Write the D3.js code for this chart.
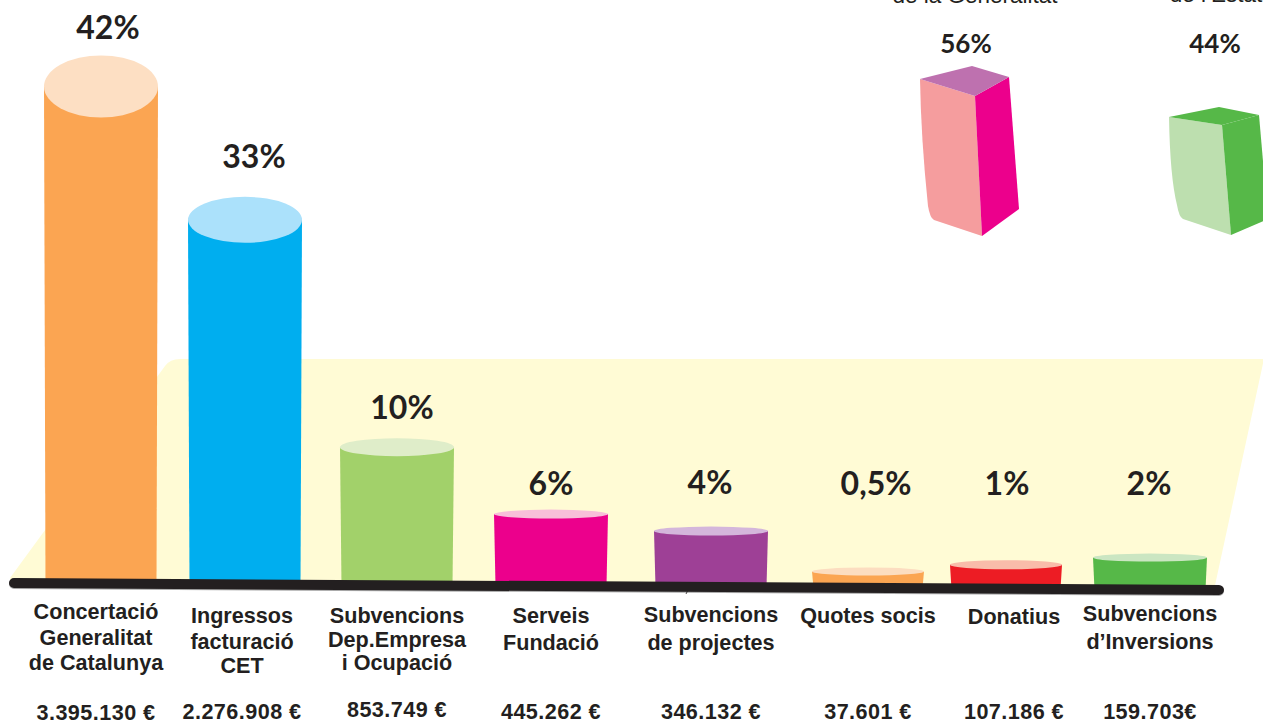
<!DOCTYPE html>
<html><head><meta charset="utf-8">
<script src="https://cdn.jsdelivr.net/npm/d3@7/dist/d3.min.js"></script>
<style>html,body{margin:0;padding:0;background:#fff;overflow:hidden}svg{display:block}</style>
</head><body><svg id="c" width="1263" height="720"></svg>
<script>
// ---- data
const categories = [["Concertació","Generalitat","de Catalunya"],["Ingressos","facturació","CET"],["Subvencions","Dep.Empresa","i Ocupació"],["Serveis","Fundació"],["Subvencions","de projectes"],["Quotes socis"],["Donatius"],["Subvencions","d’Inversions"]];
const percentLabels = ["42%","33%","10%","6%","4%","0,5%","1%","2%"];
const euroLabels = ["3.395.130 €","2.276.908 €","853.749 €","445.262 €","346.132 €","37.601 €","107.186 €","159.703€"];
const drawnLevels = [99.4,72.9,27.6,14.4,11.2,3.3,4.8,6.4];
const barColors = ["#FBA552","#00AEEF","#A2D16A","#EC008C","#9E4096","#FBA552","#ED1C24","#56B848"];
const capColors = ["#FDDFC3","#ABE1FB","#DFEDC9","#F8BFD9","#D4B6DB","#FCDDC0","#F9BCAA","#CBE6C2"];
const sourceNames = ["de la Generalitat","de l’Estat"];
const sourceShares = [56,44];
const sourceLabels = ["56%","44%"];

// ---- layout
const centers=[101,245,397,551,711,868,1006,1150];
const halfW=[57,57,57,57,57,56,56,57];
const capRy=[31,23,9,4.5,4.5,4,4.5,4];
const labelX=[96,242,397,551,711,868,1014,1150];
const labelY=[[619,645,670],[623,649,673],[623,647,670],[623,650],[622,650],[623],[624],[621,649]];
const euroY=[720,719,717,719,719,719,719,719];
const pctX=[108,254,402,551,710,876,1007,1149];
const pctY=[39,168,419,495,494,495,495,495];

const svg=d3.select("#c");
const x=d3.scaleLinear().domain(d3.range(8)).range(centers);
const level=d3.scaleLinear().domain([0,100]).range([0,500]);
const base=d3.scaleLinear().domain([14,1219]).range([583,590]);
const LF="'Liberation Sans',Arial,sans-serif", PF="Lato,'Open Sans',sans-serif";
const ink="#231F20";

// floor
svg.append("path").attr("fill","#FFFBD5")
  .attr("d","M10,578 L165,366 Q170,359 180,359 L1264,359 L1214,590 L10,584 Z");

// cylinders
const g=svg.append("g").selectAll("g").data(drawnLevels).join("g");
g.append("path").attr("fill",(d,i)=>barColors[i]).attr("d",(d,i)=>{
  const c=x(i),w=halfW[i],b=base(c),t=b-level(d),wb=w-1.5;
  return `M${c-w},${t} L${c-wb},${b} L${c+wb},${b} L${c+w},${t} Z`;
});
g.append("ellipse").attr("fill",(d,i)=>capColors[i])
  .attr("cx",(d,i)=>x(i)).attr("cy",(d,i)=>base(x(i))-level(d))
  .attr("rx",(d,i)=>halfW[i]).attr("ry",(d,i)=>capRy[i]);

// baseline
svg.append("line").attr("x1",14).attr("x2",1219).attr("y1",base(14)+1).attr("y2",base(1219)+1)
  .attr("stroke","#aaa").attr("stroke-width",10).attr("stroke-linecap","round");
svg.append("line").attr("x1",14).attr("x2",1219).attr("y1",base(14)).attr("y2",base(1219))
  .attr("stroke",ink).attr("stroke-width",10).attr("stroke-linecap","round");
svg.append("line").attr("x1",688).attr("x2",686).attr("y1",590).attr("y2",594)
  .attr("stroke",ink).attr("stroke-width",0.8);

// percent labels
svg.append("g").selectAll("text").data(percentLabels).join("text")
  .attr("x",(d,i)=>pctX[i]).attr("y",(d,i)=>pctY[i]).attr("text-anchor","middle")
  .attr("font-family",PF).attr("font-weight",700).attr("font-size",32).attr("fill",ink).text(d=>d);

// category labels
categories.forEach((lines,i)=>{
  svg.append("g").selectAll("text").data(lines).join("text")
    .attr("x",labelX[i]).attr("y",(d,j)=>labelY[i][j]).attr("text-anchor","middle")
    .attr("font-family",LF).attr("font-weight",700).attr("font-size",21.6).attr("fill",ink)
    .text(d=>d);
});
svg.append("g").selectAll("text").data(euroLabels).join("text")
  .attr("x",(d,i)=>labelX[i]).attr("y",(d,i)=>euroY[i]).attr("text-anchor","middle")
  .attr("font-family",LF).attr("font-weight",700).attr("font-size",21.6).attr("letter-spacing",0.45).attr("fill",ink).text(d=>d);

// funding-source boxes
const boxX=[920,1169], boxBottom=[236,235];
const boxFaces=[["#F59D9E","#EC008C","#BE71AF"],["#BDDFAF","#56B848","#56B848"]];
const boxH=d3.scaleLinear().domain([0,100]).range([0,250]);
const boxGeo=[{fw:55,rw:34,dt:17,lift:11,bdx:62,rb:37,rby:27},{fw:53,rw:37,dt:8,lift:8,bdx:62,rb:37,rby:16}];
sourceShares.forEach((s,i)=>{
  const X=boxX[i],B=boxBottom[i],G=boxGeo[i],ft=B-boxH(s);
  const fx=X+G.fw, lt=ft-G.dt, rx=fx+G.rw, rt=lt-2;
  const gg=svg.append("g");
  gg.append("path").attr("fill",boxFaces[i][0]).attr("d",
    `M${X},${lt} L${fx},${ft} L${X+G.bdx},${B} L${X+14},${B-16} Q${X+10},${B-18} ${X+8},${B-30} Q${X+1},${lt+60} ${X},${lt} Z`);
  gg.append("path").attr("fill",boxFaces[i][1]).attr("d",
    `M${fx},${ft} L${rx},${rt} L${X+G.bdx+G.rb},${B-G.rby} L${X+G.bdx},${B} Z`);
  gg.append("path").attr("fill",boxFaces[i][2]).attr("d",
    `M${X},${lt} L${fx-3},${lt-G.lift-2} L${rx},${rt} L${fx},${ft} Z`);
});
svg.append("g").selectAll("text").data(sourceLabels).join("text")
  .attr("x",(d,i)=>[966,1215][i]).attr("y",53).attr("text-anchor","middle")
  .attr("font-family",PF).attr("font-weight",700).attr("font-size",26).attr("fill",ink).text(d=>d);
svg.append("g").selectAll("text").data(sourceNames).join("text")
  .attr("x",(d,i)=>[975,1216][i]).attr("y",(d,i)=>[3,2][i]).attr("text-anchor","middle")
  .attr("font-family",LF).attr("font-weight",400).attr("font-size",22.5).attr("fill",ink).text(d=>d);
</script></body></html>
